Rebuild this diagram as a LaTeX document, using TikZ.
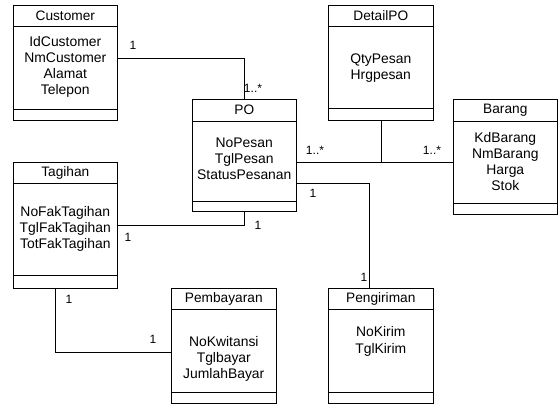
\documentclass[tikz,border=0pt]{standalone}
\usepackage{fontspec}
\setmainfont{Liberation Sans}
\usepackage{tikz}
\usetikzlibrary{positioning, calc}
\tikzstyle{block} = [draw,rectangle,line width=0.6pt,minimum width=104,anchor=north west,inner sep=0pt]
\tikzstyle{title} = [inner sep=0pt,font=\fontsize{13.7}{16}\selectfont]
\tikzstyle{attr} = [align=center,inner sep=0pt,font=\fontsize{13.9}{16.2}\selectfont]
\tikzstyle{mult} = [inner sep=0pt,font=\fontsize{12}{14}\selectfont]
\tikzstyle{connector} = [line width=0.6pt]

\begin{document}
\begin{tikzpicture}[x=1pt,y=-1pt]
  \useasboundingbox (0,0) rectangle (558,405);

  % Customer
  \node[block, minimum height=115] (customer) at (13,5) {};
  \node[title] at ($(customer.north)+(0,10.5)$) {Customer};
  \draw[connector] ($(customer.north west)+(0,21)$) -- ++(104,0);
  \draw[connector] ($(customer.north west)+(0,104)$) -- ++(104,0);
  \node[attr] at ($(customer.north)+(0,62)$) {IdCustomer\\NmCustomer\\Alamat\\Telepon};

  % DetailPO
  \node[block, minimum width=105, minimum height=115] (detailpo) at (328,5) {};
  \node[title] at ($(detailpo.north)+(0,10.5)$) {DetailPO};
  \draw[connector] ($(detailpo.north west)+(0,21)$) -- ++(105,0);
  \draw[connector] ($(detailpo.north west)+(0,103)$) -- ++(105,0);
  \node[attr] at ($(detailpo.north)+(0,63)$) {QtyPesan\\Hrgpesan};

  % PO
  \node[block, minimum height=112] (po) at (192,99) {};
  \node[title] at ($(po.north)+(0,11)$) {PO};
  \draw[connector] ($(po.north west)+(0,22)$) -- ++(104,0);
  \draw[connector] ($(po.north west)+(0,102)$) -- ++(104,0);
  \node[attr] at ($(po.north)+(0,60)$) {NoPesan\\TglPesan\\StatusPesanan};

  % Barang
  \node[block, minimum height=115] (barang) at (453,99) {};
  \node[title] at ($(barang.north)+(0,11)$) {Barang};
  \draw[connector] ($(barang.north west)+(0,22)$) -- ++(104,0);
  \draw[connector] ($(barang.north west)+(0,104)$) -- ++(104,0);
  \node[attr] at ($(barang.north)+(0,62.5)$) {KdBarang\\NmBarang\\Harga\\Stok};

  % Tagihan
  \node[block, minimum height=126] (tagihan) at (13,162) {};
  \node[title] at ($(tagihan.north)+(0,10.5)$) {Tagihan};
  \draw[connector] ($(tagihan.north west)+(0,21)$) -- ++(104,0);
  \draw[connector] ($(tagihan.north west)+(0,113)$) -- ++(104,0);
  \node[attr] at ($(tagihan.north)+(0,67)$) {NoFakTagihan\\TglFakTagihan\\TotFakTagihan};

  % Pembayaran
  \node[block, minimum width=105, minimum height=115] (pembayaran) at (171,288) {};
  \node[title] at ($(pembayaran.north)+(0,10.5)$) {Pembayaran};
  \draw[connector] ($(pembayaran.north west)+(0,21)$) -- ++(105,0);
  \draw[connector] ($(pembayaran.north west)+(0,104)$) -- ++(105,0);
  \node[attr] at ($(pembayaran.north)+(0,71)$) {NoKwitansi\\Tglbayar\\JumlahBayar};

  % Pengiriman
  \node[block, minimum width=105, minimum height=115] (pengiriman) at (328,288) {};
  \node[title] at ($(pengiriman.north)+(0,10.5)$) {Pengiriman};
  \draw[connector] ($(pengiriman.north west)+(0,21)$) -- ++(105,0);
  \draw[connector] ($(pengiriman.north west)+(0,104)$) -- ++(105,0);
  \node[attr] at ($(pengiriman.north)+(0,53.5)$) {NoKirim\\TglKirim};

% now link the nodes

\coordinate (custR) at ($(customer.north east)+(0,53)$);
\coordinate (poR1) at ($(po.north east)+(0,63)$);
\coordinate (poR2) at ($(po.north east)+(0,84)$);
\coordinate (tagR) at ($(tagihan.north east)+(0,63)$);
\coordinate (tagB) at ($(tagihan.south west)+(42,0)$);
\coordinate (bayarL) at ($(pembayaran.north west)+(0,64)$);
\coordinate (kirimT) at ($(pengiriman.north west)+(41,0)$);

\draw [connector] (custR) -| (po.north);
\draw [connector] (poR1) -- (poR1 -| barang.west);
\draw [connector] (detailpo.south) -- (detailpo.south |- poR1);
\draw [connector] (poR2) -| (kirimT);
\draw [connector] (tagR) -| (po.south);
\draw [connector] (tagB) |- (bayarL);

\node[mult] at (133,45) {1};
\node[mult] at (253,88) {1..*};
\node[mult] at (315,150) {1..*};
\node[mult] at (432,150) {1..*};
\node[mult] at (313,193) {1};
\node[mult] at (364,277) {1};
\node[mult] at (128,237) {1};
\node[mult] at (258,225) {1};
\node[mult] at (69,299) {1};
\node[mult] at (153,339) {1};
\end{tikzpicture}
\end{document}
